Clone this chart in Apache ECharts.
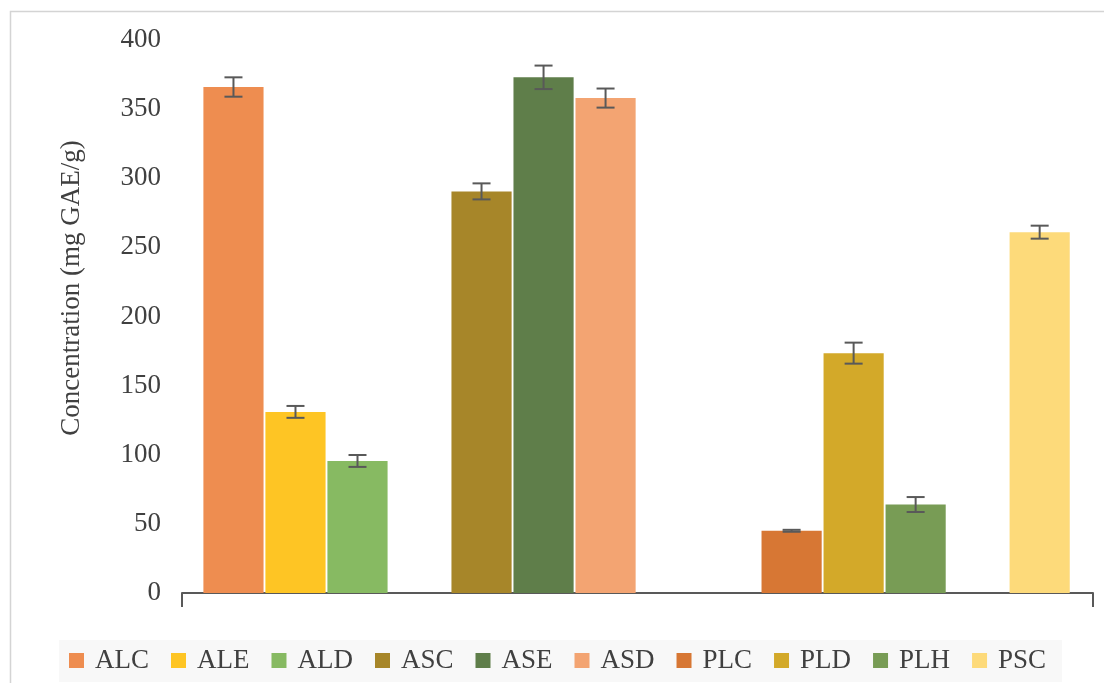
<!DOCTYPE html>
<html>
<head>
<meta charset="utf-8">
<script src="https://cdn.jsdelivr.net/npm/echarts@6/dist/echarts.min.js"></script>
<style>
html,body{margin:0;padding:0;background:#fff;}
#chart{width:1104px;height:683px;}
</style>
</head>
<body>
<div id="chart"></div>
<script>
// Slots along the x axis (null = empty slot between groups)
var categories = ['ALC','ALE','ALD',null,'ASC','ASE','ASD',null,null,'PLC','PLD','PLH',null,'PSC'];
var seriesNames = ['ALC','ALE','ALD','ASC','ASE','ASD','PLC','PLD','PLH','PSC'];
var values = [366, 131, 95.5, 290.5, 373, 358, 45, 173.5, 64, 261];
var errors = [7, 4.3, 4.3, 5.8, 8.5, 6.9, 0.7, 7.6, 5.4, 4.7];
var yTicks = [0, 50, 100, 150, 200, 250, 300, 350, 400];
var colors = ['#EE8D50','#FEC524','#87BA62','#A78629','#5F7E4A','#F3A472','#D77734','#D3A929','#789C55','#FDDA7A'];

var FONT = 'Liberation Serif';
var chart = echarts.init(document.getElementById('chart'));

var xMin = -0.83, xMax = 13.86;

var series = seriesNames.map(function (name, i) {
  return {
    name: name,
    type: 'bar',
    barGap: '-100%',
    barWidth: '97%',
    itemStyle: { color: colors[i] },
    data: [[categories.indexOf(name), values[i]]],
    z: 2
  };
});

series.push({
  name: 'err',
  type: 'custom',
  z: 5,
  data: seriesNames.map(function (name, i) {
    return [categories.indexOf(name), values[i] - errors[i], values[i] + errors[i]];
  }),
  renderItem: function (params, api) {
    var x = api.value(0);
    var lo = api.coord([x, api.value(1)]);
    var hi = api.coord([x, api.value(2)]);
    var hw = 9;
    var st = { stroke: '#595959', lineWidth: 2 };
    return {
      type: 'group',
      children: [
        { type: 'line', shape: { x1: hi[0], y1: hi[1], x2: lo[0], y2: lo[1] }, style: st },
        { type: 'line', shape: { x1: hi[0] - hw, y1: hi[1], x2: hi[0] + hw, y2: hi[1] }, style: st },
        { type: 'line', shape: { x1: lo[0] - hw, y1: lo[1], x2: lo[0] + hw, y2: lo[1] }, style: st }
      ]
    };
  }
});

chart.setOption({
  animation: false,
  backgroundColor: '#fff',
  grid: { left: 182, right: 11, top: 40, bottom: 90, containLabel: false },
  xAxis: {
    type: 'value',
    min: xMin,
    max: xMax,
    axisLine: { show: true, lineStyle: { color: '#595959', width: 2 } },
    axisTick: { show: true, inside: false, length: 14, lineStyle: { color: '#595959', width: 2 }, customValues: [xMin, xMax] },
    axisLabel: { show: false },
    splitLine: { show: false }
  },
  yAxis: {
    type: 'value',
    min: yTicks[0],
    max: yTicks[yTicks.length - 1],
    interval: yTicks[1] - yTicks[0],
    axisLine: { show: false },
    axisTick: { show: false },
    splitLine: { show: false },
    axisLabel: { fontFamily: FONT, fontSize: 27, color: '#404040', margin: 21 }
  },
  legend: {
    data: seriesNames,
    left: 59,
    top: 640,
    padding: [7, 16, 8, 10],
    backgroundColor: '#f8f8f8',
    icon: 'rect',
    itemWidth: 15,
    itemHeight: 15,
    itemGap: 22,
    textStyle: { fontFamily: FONT, fontSize: 27, color: '#404040', padding: [0, 0, 0, 6] }
  },
  graphic: [
    {
      type: 'rect',
      silent: true,
      shape: { x: 10.5, y: 11.5, width: 1300, height: 900 },
      style: { fill: 'none', stroke: '#d4d4d4', lineWidth: 1.5 }
    },
    {
      type: 'text',
      x: 72,
      y: 288,
      rotation: Math.PI / 2,
      style: {
        text: 'Concentration (mg GAE/g)',
        fontFamily: FONT,
        fontSize: 27,
        fill: '#404040',
        align: 'center',
        verticalAlign: 'middle'
      }
    }
  ],
  series: series
});
</script>
</body>
</html>
